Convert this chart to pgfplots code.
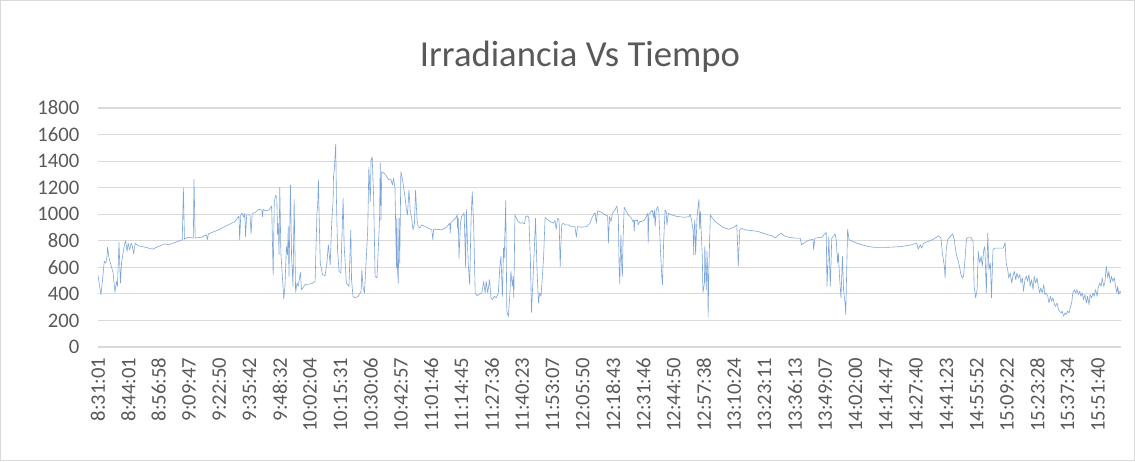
\documentclass[border=0pt]{standalone}
\usepackage{pgfplots}
\pgfplotsset{compat=1.18}
\usepackage{fontspec}
\setmainfont{Carlito}
\definecolor{txtgray}{RGB}{89,89,89}
\definecolor{gridgray}{RGB}{217,217,217}
\definecolor{lineblue}{RGB}{125,165,218}
\begin{document}
\begin{tikzpicture}[x=0.75pt,y=0.75pt]
\useasboundingbox (0,0) rectangle (1135,461);
\draw[gridgray, line width=0.75pt] (0.5,0.5) rectangle (1134.5,460.5);
\node[txtgray, font=\fontsize{27.5}{33}\selectfont] at (580,404) {Irradiancia Vs Tiempo};
\begin{axis}[
  at={(73.5pt,85.5pt)}, anchor=south west,
  scale only axis, width=767.25pt, height=179.25pt,
  xmin=0, xmax=27.8, ymin=0, ymax=1800,
  ytick={0,200,...,1800},
  xtick={0,0.8234,...,27.3},
  xticklabels={8:31:01,8:44:01,8:56:58,9:09:47,9:22:50,9:35:42,9:48:32,10:02:04,10:15:31,10:30:06,10:42:57,11:01:46,11:14:45,11:27:36,11:40:23,11:53:07,12:05:50,12:18:43,12:31:46,12:44:50,12:57:38,13:10:24,13:23:11,13:36:13,13:49:07,14:02:00,14:14:47,14:27:40,14:41:23,14:55:52,15:09:22,15:23:28,15:37:34,15:51:40},
  axis line style={draw=none},
  major tick length=0pt,
  ymajorgrids, grid style={gridgray, line width=0.8pt},
  tick label style={txtgray, font=\fontsize{15.5}{18}\selectfont},
  /pgf/number format/assume math mode=true,
  /pgf/number format/1000 sep={},
  yticklabel style={xshift=-10.5pt},
  xticklabel style={yshift=-4.5pt, rotate=90, anchor=east},
]
\addplot[lineblue, line width=0.45pt, line join=round] coordinates {
(0.00,540)(0.045,457)(0.08,395)(0.12,495)(0.17,645)(0.21,632)(0.245,682)(0.26,752)(0.30,670)(0.35,620)(0.41,557)(0.46,412)(0.50,495)(0.53,457)(0.57,787)(0.61,482)(0.64,632)(0.68,707)(0.72,770)(0.75,800)(0.79,720)(0.82,782)(0.86,732)(0.90,782)(0.93,762)(0.97,702)(1.01,782)(1.10,762)(1.28,752)(1.48,737)(1.64,757)(1.82,777)(1.91,770)(2.09,787)(2.29,807)(2.32,1195)(2.35,812)(2.45,827)(2.59,820)(2.61,1262)(2.64,820)(2.82,827)(2.95,845)(2.97,807)(3.00,852)(3.27,882)(3.54,920)(3.72,945)(3.83,987)(3.85,807)(3.88,995)(3.92,1007)(3.96,977)(3.99,1007)(4.01,832)(4.04,995)(4.13,995)(4.16,852)(4.19,1007)(4.27,1012)(4.36,1037)(4.45,1032)(4.47,982)(4.49,1037)
(4.54,1027)(4.65,1032)(4.72,1062)(4.76,537)(4.79,1095)(4.83,1145)(4.86,1120)(4.88,845)(4.90,932)(4.92,695)(4.94,1202)(4.97,707)(5.01,532)(5.05,362)(5.08,457)(5.12,757)(5.15,695)(5.17,907)(5.19,532)(5.23,1220)(5.26,682)(5.30,457)(5.33,1112)(5.37,412)(5.41,482)(5.44,457)(5.50,562)(5.53,432)(5.63,470)(5.81,477)(5.90,495)(5.95,1007)(5.97,1070)(5.99,1257)(6.01,982)(6.04,632)(6.10,545)(6.17,537)(6.22,632)(6.26,770)(6.31,620)(6.35,932)(6.39,1107)(6.40,1287)(6.42,1332)(6.46,1527)(6.48,1107)(6.51,732)(6.55,570)(6.60,557)(6.66,1120)(6.69,757)(6.75,482)(6.82,457)(6.87,882)(6.89,507)(6.93,382)(6.98,370)(7.07,382)(7.15,420)(7.17,582)(7.20,457)(7.24,407)(7.27,557)(7.33,882)(7.36,1352)(7.40,1095)(7.42,1407)(7.45,1432)(7.49,1132)(7.53,532)(7.58,520)(7.62,757)(7.65,957)(7.67,1387)(7.69,957)(7.71,1320)(7.78,1307)(7.85,1282)(7.91,1257)(7.96,1262)(8.00,1220)(8.03,1270)(8.07,1195)(8.11,595)(8.12,970)(8.14,582)(8.16,482)(8.18,970)(8.20,632)(8.23,1320)(8.27,1270)(8.31,1195)(8.34,1132)(8.38,1037)(8.41,995)(8.45,1182)(8.49,1007)(8.52,982)(8.56,882)(8.60,932)(8.63,1182)(8.67,957)(8.70,907)(8.74,895)(8.80,920)(8.89,907)(8.98,895)(9.07,882)(9.10,807)(9.12,887)
(9.16,887)(9.34,882)(9.47,902)(9.52,920)(9.56,932)(9.57,857)(9.59,937)(9.66,957)(9.72,970)(9.76,995)(9.77,895)(9.79,970)(9.81,670)(9.85,932)(9.88,982)(9.92,995)(9.95,1012)(9.99,595)(10.01,1037)(10.03,882)(10.06,632)(10.10,470)(10.14,982)(10.17,1170)(10.21,907)(10.25,407)(10.30,387)(10.35,395)(10.43,407)(10.48,495)(10.52,407)(10.55,495)(10.59,407)(10.64,507)(10.68,370)(10.72,357)(10.77,382)(10.82,370)(10.88,407)(10.92,607)(10.95,682)(10.99,382)(11.02,745)(11.04,670)(11.08,1102)(11.11,270)(11.15,227)(11.19,382)(11.22,570)(11.26,457)(11.28,532)(11.30,370)(11.33,995)(11.37,970)(11.42,945)(11.48,932)(11.53,937)(11.59,927)(11.62,982)(11.68,987)(11.71,970)(11.75,657)(11.78,262)(11.82,507)(11.86,757)(11.89,970)(11.93,582)(11.97,332)(12.00,407)(12.04,382)(12.07,507)(12.11,682)(12.15,977)(12.20,962)(12.29,945)(12.38,932)(12.42,952)(12.45,887)(12.49,970)(12.53,957)(12.56,607)(12.60,920)(12.64,932)(12.69,920)(12.78,920)(12.87,907)(12.96,907)(13.00,827)(13.03,907)(13.14,902)(13.28,907)(13.37,932)(13.43,977)(13.51,1012)(13.54,932)(13.58,1025)(13.64,1020)(13.73,1007)
(13.78,995)(13.85,987)(13.87,782)(13.90,982)(13.94,945)(13.98,1007)(14.05,1032)(14.10,1062)(14.14,982)(14.16,620)(14.18,477)(14.19,632)(14.21,845)(14.23,632)(14.25,532)(14.27,832)(14.30,1052)(14.34,1032)(14.41,995)(14.48,977)(14.54,945)(14.56,957)(14.57,870)(14.59,957)(14.63,952)(14.66,957)(14.68,920)(14.72,945)(14.77,945)(14.85,957)(14.90,982)(14.94,1007)(14.95,782)(14.97,995)(15.03,1020)(15.06,1032)(15.10,977)(15.12,1032)(15.14,907)(15.17,1032)(15.21,1057)(15.24,1020)(15.28,757)(15.32,532)(15.34,470)(15.37,782)(15.41,1032)(15.44,1020)(15.46,920)(15.50,1007)(15.59,995)(15.68,987)(15.77,982)(15.95,977)(16.06,982)(16.09,1000)(16.13,957)(16.17,882)(16.19,695)(16.20,882)(16.22,957)(16.24,695)(16.28,982)(16.31,1062)(16.33,1112)(16.35,887)(16.37,1020)(16.39,882)(16.42,695)(16.44,412)(16.48,482)(16.49,757)(16.53,432)(16.55,720)(16.57,532)(16.58,227)(16.60,582)(16.64,995)(16.68,977)(16.77,945)(16.86,927)(16.95,907)(17.04,895)(17.13,887)(17.22,895)(17.31,907)(17.36,920)(17.40,612)(17.44,882)(17.49,895)(17.58,882)(17.76,877)(17.94,870)(18.13,852)(18.31,837)(18.36,832)
(18.40,820)(18.47,837)(18.56,857)(18.65,837)(18.76,827)(18.94,820)(19.08,820)(19.12,770)(19.18,782)(19.30,802)(19.43,812)(19.45,732)(19.48,820)(19.67,827)(19.76,857)(19.79,862)(19.81,457)(19.85,732)(19.86,832)(19.90,457)(19.94,820)(19.99,837)(20.03,852)(20.06,807)(20.10,632)(20.12,707)(20.15,532)(20.19,370)(20.23,682)(20.26,432)(20.30,332)(20.32,245)(20.35,632)(20.37,887)(20.41,807)(20.57,787)(20.75,770)(20.93,757)(21.11,750)(21.30,750)(21.57,752)(21.84,757)(22.11,770)(22.25,782)(22.29,737)(22.35,770)(22.38,745)(22.44,782)(22.56,795)(22.70,812)(22.84,837)(22.91,820)(22.94,720)(23.00,607)
(23.02,520)(23.05,732)(23.09,807)(23.14,827)(23.20,845)(23.23,852)(23.27,807)(23.31,720)(23.34,682)(23.38,645)(23.41,607)(23.45,545)(23.49,520)(23.52,532)(23.56,657)(23.60,812)(23.65,827)(23.72,827)(23.78,795)(23.81,457)(23.85,370)(23.89,432)(23.92,720)(23.96,632)(24.00,682)(24.03,607)(24.07,732)(24.10,757)(24.14,407)(24.18,857)(24.21,582)(24.25,632)(24.28,370)(24.32,732)(24.37,745)(24.46,745)(24.60,745)(24.65,787)(24.68,632)(24.72,582)(24.75,520)(24.79,557)(24.83,482)(24.86,532)(24.90,570)(24.94,507)(24.97,557)(25.01,520)(25.05,545)(25.08,482)(25.12,520)(25.15,420)(25.19,507)(25.23,532)(25.26,495)(25.30,545)(25.33,457)(25.37,507)(25.41,432)(25.44,532)(25.48,482)(25.52,520)(25.55,457)(25.59,407)(25.62,445)(25.66,407)(25.70,470)(25.73,395)(25.77,407)(25.81,382)(25.84,332)(25.88,382)(25.91,345)(25.95,370)(25.99,320)(26.02,307)(26.06,332)(26.10,282)(26.13,270)(26.17,257)(26.20,270)(26.24,232)(26.28,257)(26.31,245)(26.35,270)(26.39,257)(26.42,295)(26.46,332)(26.49,407)(26.53,432)(26.57,407)(26.60,432)(26.64,395)(26.68,420)(26.71,382)(26.75,407)(26.78,357)(26.82,395)(26.86,332)(26.89,382)(26.93,320)(26.96,395)(27.00,370)(27.04,407)(27.07,382)(27.11,432)(27.15,382)(27.18,445)(27.22,482)(27.26,457)(27.29,520)(27.33,457)(27.36,482)(27.40,607)(27.44,520)(27.47,570)(27.51,482)(27.54,532)(27.58,495)(27.62,520)(27.65,457)(27.69,407)(27.71,457)(27.74,395)(27.77,420)(27.80,407)
};
\end{axis}
\end{tikzpicture}
\end{document}
